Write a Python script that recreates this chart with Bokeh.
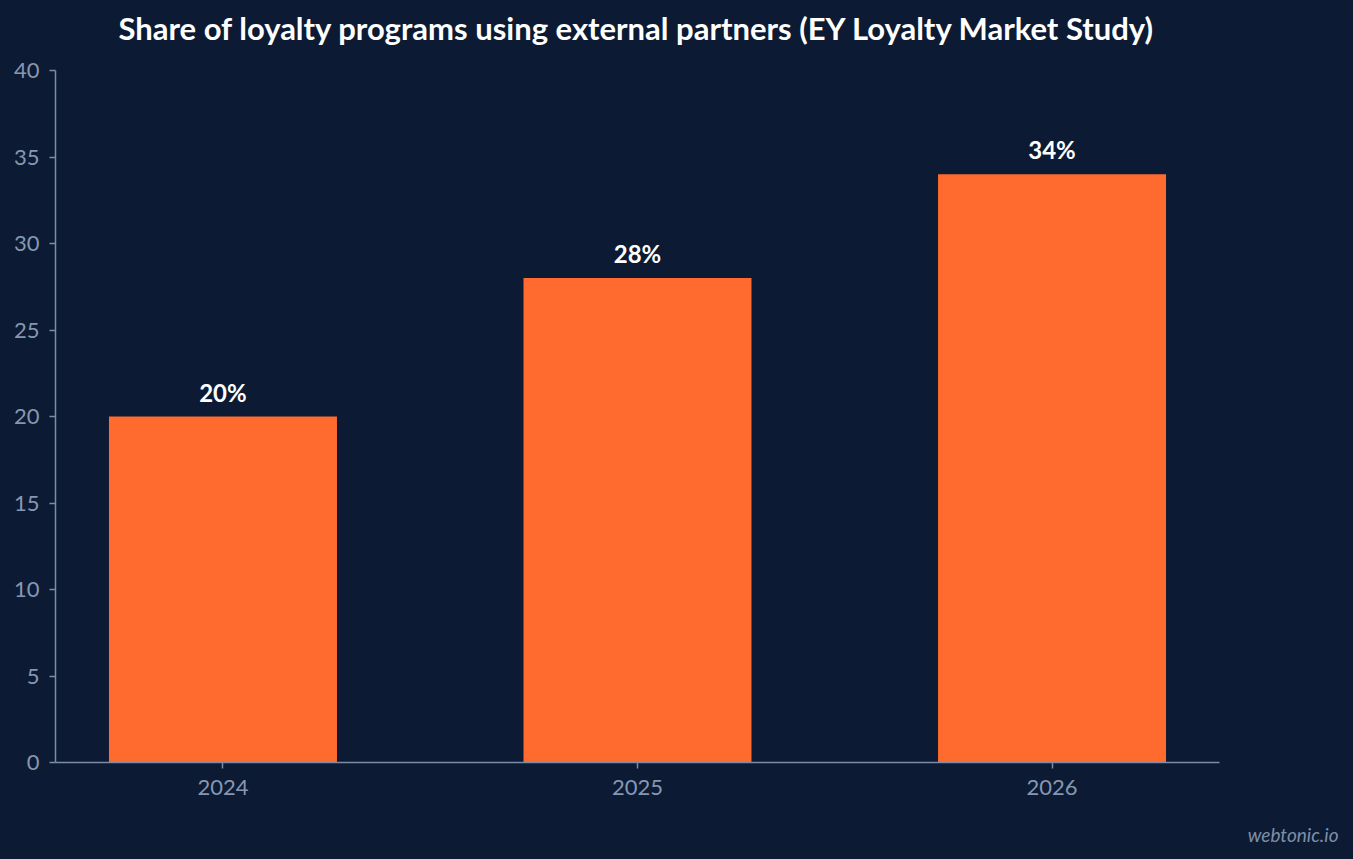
from bokeh.plotting import figure
from bokeh.models import ColumnDataSource, FactorRange, Range1d, Title, FixedTicker, LabelSet
from bokeh.core.properties import value
from bokeh.embed import file_html
from bokeh.resources import INLINE

years = ["2024", "2025", "2026"]
shares = [20, 28, 34]
share_labels = ["20%", "28%", "34%"]
y_ticks = [0, 5, 10, 15, 20, 25, 30, 35, 40]
title_text = "Share of loyalty programs using external partners (EY Loyalty Market Study)"
credit_text = "webtonic.io"

BG = "#0c1b33"
BAR = "#ff6b2e"
AXIS = "#7d8ca6"
TICKLBL = "#8797b2"

src = ColumnDataSource(data=dict(x=years, top=shares, lbl=share_labels))

p = figure(
    width=1353, height=859,
    x_range=FactorRange(factors=years, range_padding=-0.096, range_padding_units="absolute"),
    y_range=Range1d(0, 40),
    output_backend="svg", toolbar_location=None,
    background_fill_color=BG, border_fill_color=BG,
    outline_line_color=None,
    min_border_left=55, min_border_right=134, min_border_top=70, min_border_bottom=97,
)

# small spacer between frame and title so the title sits higher
p.add_layout(Title(text=" ", text_font_size="1px", standoff=15, text_color=BG), "above")

p.title.text = title_text
p.title.align = "center"
p.title.text_color = "#ffffff"
p.title.text_font = "Lato"
p.title.text_font_size = "31px"
p.title.text_font_style = "bold"
p.title.standoff = 12

p.vbar(x="x", top="top", width=0.55, source=src, color=BAR, line_color=None)

labels = LabelSet(x="x", y="top", text="lbl", source=src, text_align="center",
                  text_baseline="bottom", y_offset=10, text_color="#ffffff",
                  text_font=value("Lato"), text_font_size="24px", text_font_style="bold")
p.add_layout(labels)

p.grid.visible = False
for ax in (p.xaxis[0], p.yaxis[0]):
    ax.axis_line_color = AXIS
    ax.axis_line_width = 1.5
    ax.major_tick_line_color = AXIS
    ax.major_tick_line_width = 1.5
    ax.major_tick_in = 0
    ax.major_tick_out = 6
    ax.minor_tick_line_color = None
    ax.major_label_text_color = TICKLBL
    ax.major_label_text_font = "Lato"
    ax.major_label_text_font_size = "22px"

p.yaxis[0].ticker = FixedTicker(ticks=y_ticks)
p.yaxis[0].major_label_standoff = 10
p.xaxis[0].major_label_standoff = 11

p.add_layout(Title(text=" ", text_font_size="1px", standoff=15, text_color=BG), "below")
wm = Title(text=credit_text, align="right", offset=-119, standoff=10, text_color="#7f8ea8",
           text_font="Lato", text_font_size="19px", text_font_style="italic")
p.add_layout(wm, "below")

html = file_html(p, INLINE)
html = html.replace("</head>", "<style>html, body { background-color: %s; }</style></head>" % BG, 1)
open("out.html", "w").write(html)
